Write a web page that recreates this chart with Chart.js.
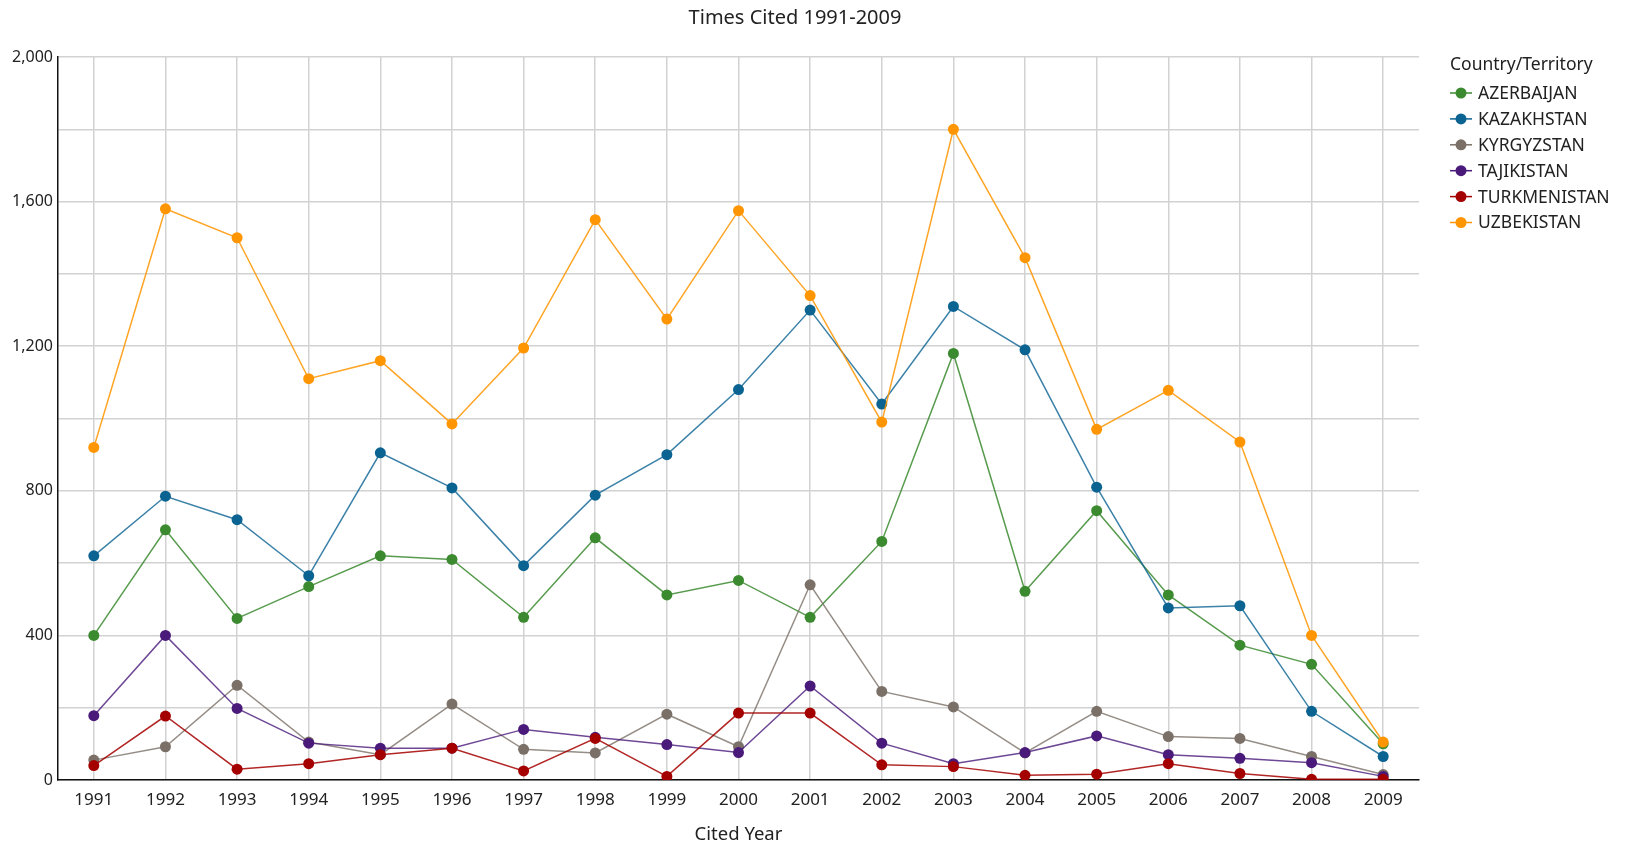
<!DOCTYPE html>
<html>
<head>
<meta charset="utf-8">
<script src="https://cdn.jsdelivr.net/npm/chart.js@4/dist/chart.umd.min.js"></script>
<style>
  html, body { margin: 0; padding: 0; background: #fff; }
  #wrap { width: 1627px; height: 846px; position: relative; }
</style>
</head>
<body>
<div id="wrap"><canvas id="c" width="1627" height="846"></canvas></div>
<script>
const chartTitle = 'Times Cited 1991-2009';
const xTitle = 'Cited Year';
const legendTitle = 'Country/Territory';
const years = ['1991','1992','1993','1994','1995','1996','1997','1998','1999','2000','2001','2002','2003','2004','2005','2006','2007','2008','2009'];
const seriesNames = ['AZERBAIJAN','KAZAKHSTAN','KYRGYZSTAN','TAJIKISTAN','TURKMENISTAN','UZBEKISTAN'];
const azerbaijan   = [400, 692, 447, 535, 620, 610, 450, 670, 512, 552, 450, 660, 1180, 522, 745, 512, 373, 320, 100];
const kazakhstan   = [620, 785, 720, 565, 905, 808, 593, 788, 900, 1080, 1300, 1040, 1310, 1190, 810, 476, 482, 190, 65];
const kyrgyzstan   = [55, 92, 262, 105, 70, 210, 85, 75, 182, 92, 540, 245, 202, 75, 190, 120, 115, 65, 15];
const tajikistan   = [178, 400, 198, 102, 88, 88, 140, 118, 98, 76, 260, 102, 45, 76, 122, 70, 60, 48, 10];
const turkmenistan = [40, 177, 30, 45, 70, 88, 25, 115, 10, 185, 185, 42, 37, 13, 16, 45, 18, 2, 2];
const uzbekistan   = [920, 1580, 1500, 1110, 1160, 985, 1195, 1550, 1275, 1575, 1340, 990, 1800, 1445, 970, 1078, 935, 400, 105];
const yTicks = [0, 400, 800, 1200, 1600, 2000];

const seriesValues = [azerbaijan, kazakhstan, kyrgyzstan, tajikistan, turkmenistan, uzbekistan];
const markerColors = ['#3b8a2f', '#0b6392', '#7a7068', '#4a1a7b', '#a50000', '#ff9500'];
const lineColors = ['rgba(59,138,47,0.85)', 'rgba(11,99,146,0.8)', 'rgba(122,112,104,0.8)', 'rgba(74,26,123,0.8)', 'rgba(165,0,0,0.85)', 'rgba(255,149,0,0.85)'];

const FONT = '"Noto Sans", "Open Sans", sans-serif';
const TEXT = '#222';

const datasets = seriesNames.map((name, i) => ({
  label: name,
  data: seriesValues[i],
  borderColor: lineColors[i],
  backgroundColor: markerColors[i],
  pointBackgroundColor: markerColors[i],
  pointBorderColor: markerColors[i],
  pointBorderWidth: 0,
  pointRadius: 5.5,
  borderWidth: 1.5,
  tension: 0,
  order: seriesNames.length - 1 - i
}));

const overlay = {
  id: 'overlay',
  afterDraw(chart) {
    const ctx = chart.ctx;
    ctx.save();
    // title
    ctx.fillStyle = TEXT;
    ctx.font = '20px ' + FONT;
    ctx.textAlign = 'center';
    ctx.textBaseline = 'middle';
    ctx.fillText(chartTitle, 795, 18);
    // legend
    const lx = 1450;
    ctx.textAlign = 'left';
    ctx.font = '17.5px ' + FONT;
    ctx.fillText(legendTitle, lx, 65);
    ctx.font = '17.5px ' + FONT;
    chart.data.datasets.forEach((ds, i) => {
      const y = 93 + i * 25.9;
      ctx.strokeStyle = ds.pointBackgroundColor;
      ctx.lineWidth = 1.5;
      ctx.beginPath();
      ctx.moveTo(lx, y);
      ctx.lineTo(lx + 22, y);
      ctx.stroke();
      ctx.fillStyle = ds.pointBackgroundColor;
      ctx.beginPath();
      ctx.arc(lx + 11, y, 5.5, 0, Math.PI * 2);
      ctx.fill();
      ctx.fillStyle = TEXT;
      ctx.fillText(ds.label, lx + 28, y + 1);
    });
    ctx.restore();
  }
};

new Chart(document.getElementById('c'), {
  type: 'line',
  data: { labels: years, datasets },
  plugins: [overlay],
  options: {
    responsive: false,
    animation: false,
    layout: { padding: { left: 0, right: 208, top: 57, bottom: 0 } },
    plugins: { legend: { display: false }, title: { display: false }, tooltip: { enabled: false } },
    scales: {
      x: {
        type: 'category',
        offset: true,
        grid: { offset: false, color: '#d2d2d2', lineWidth: 1.5, drawTicks: false },
        border: { color: '#111', width: 1.5 },
        ticks: { color: TEXT, font: { family: FONT, size: 17 }, padding: 10, maxRotation: 0, autoSkip: false },
        title: { display: true, text: xTitle, color: TEXT, font: { family: FONT, size: 18.5 }, padding: { top: 7, bottom: 0 } },
        afterFit(scale) { scale.height = 66; }
      },
      y: {
        min: 0,
        max: 2000,
        grid: { color: '#d2d2d2', lineWidth: 1.5, drawTicks: false },
        border: { color: '#111', width: 1.5 },
        ticks: {
          stepSize: 200,
          color: TEXT,
          font: { family: FONT, size: 16 },
          padding: 5,
          callback(v) { return yTicks.includes(v) ? v.toLocaleString('en-US') : ''; }
        },
        afterFit(scale) { scale.width = 58; }
      }
    }
  }
});
</script>
</body>
</html>
